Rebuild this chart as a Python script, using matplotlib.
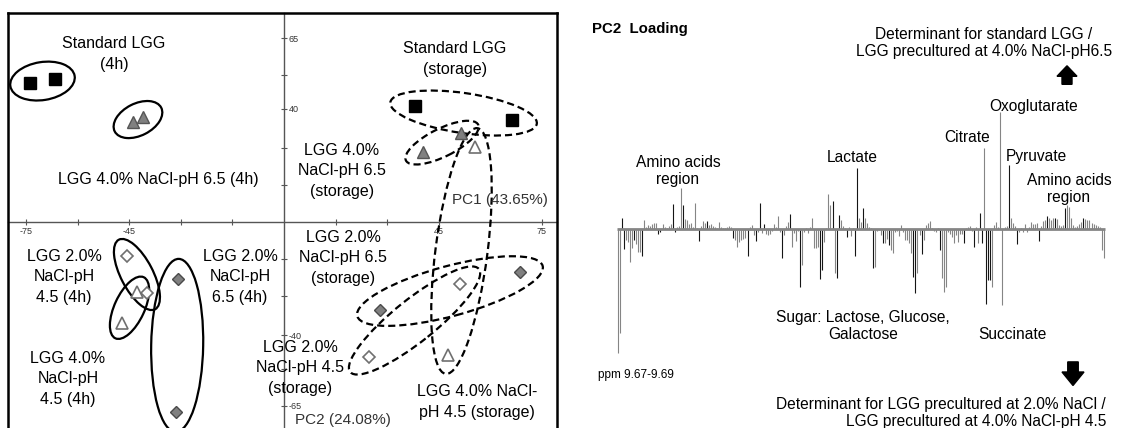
import numpy as np
import matplotlib
matplotlib.use("Agg")
import matplotlib.pyplot as plt
from matplotlib.patches import Ellipse, FancyArrow
import matplotlib.transforms as mtransforms

plt.rcParams['font.family'] = ['Liberation Sans', 'DejaVu Sans']

# ---------------- PCA scores (PC1, PC2) ----------------
std_4h_pc1 = [-73.8, -66.6]
std_4h_pc2 = [49.1, 50.5]
s40_ph65_4h_pc1 = [-43.9, -41.0]
s40_ph65_4h_pc2 = [35.3, 37.1]
s20_ph45_4h_pc1 = [-45.6, -39.9]
s20_ph45_4h_pc2 = [-11.9, -25.2]
s40_ph45_4h_pc1 = [-42.8, -47.0]
s40_ph45_4h_pc2 = [-24.8, -35.8]
s20_ph65_4h_pc1 = [-30.7, -31.4]
s20_ph65_4h_pc2 = [-20.1, -67.1]

std_st_pc1 = [38.1, 66.3]
std_st_pc2 = [41.0, 36.0]
s40_ph65_st_pc1 = [40.4, 51.5]
s40_ph65_st_pc2 = [24.7, 31.4]
s40_ph45_st_pc1 = [55.5, 47.7]
s40_ph45_st_pc2 = [26.5, -47.0]
s20_ph65_st_pc1 = [27.9, 68.6]
s20_ph65_st_pc2 = [-31.1, -17.7]
s20_ph45_st_pc1 = [24.7, 51.2]
s20_ph45_st_pc2 = [-47.7, -21.9]

pc1_ticks = [-75, -60, -45, -30, -15, 15, 30, 45, 60, 75]
pc1_tick_labels = ["-75", "", "-45", "", "", "", "", "45", "", "75"]
pc2_ticks = [-65, -52, -40, -26, -13, 13, 26, 40, 52, 65]
pc2_tick_labels = ["-65", "", "-40", "", "", "", "", "40", "", "65"]

# ---------------- PC2 loadings per spectral bin ----------------
loading = [
    -124, -104, 11, -20, -11, -13, -33, -19, -11, -15,
    -23, -23, -27, 9, 2, 4, 3, 5, 6, 6,
    -5, -3, 5, 2, 1, 3, 5, 25, -3, 2,
    3, 41, 24, 10, 9, 5, 6, 2, 26, 1,
    -12, 3, 8, 6, 8, 4, 5, 3, 2, 1,
    7, 2, 1, 1, 2, 3, 2, -9, -11, -18,
    -13, -11, -10, -9, -27, 2, 4, -6, -12, -3,
    26, -4, 5, -5, -6, -5, -2, 5, 2, 13,
    -3, -29, -6, 3, 7, 15, -18, -4, -12, -2,
    -58, -36, -3, 1, -4, 2, 11, -19, -19, -18,
    -50, -41, -13, 1, 35, 24, 28, -44, -49, 14,
    9, 3, 1, -8, 2, -7, 1, -27, 61, 11,
    7, 21, 11, 6, 2, 1, -39, -38, -2, -1,
    -6, -14, -14, -10, -16, -21, -24, -3, -2, -7,
    4, -3, -11, -11, -14, -24, -48, -64, -44, -6,
    -25, -11, 4, 6, 8, 1, -2, -3, 1, -21,
    -49, -63, -58, -3, -5, -8, -14, -6, -13, -5,
    -5, -14, 1, 2, 3, -2, -18, 2, -14, 16,
    -14, 81, -75, -51, -51, -58, 4, 7, 2, 117,
    -76, 2, 3, 64, 11, 6, 3, -15, -3, 1,
    -3, 5, -3, 2, 7, 5, 5, 6, -12, 3,
    8, 9, 13, 11, 9, 11, 11, 10, 4, 3,
    4, 21, 24, 22, 11, 4, 2, 3, 5, 7,
    11, 10, 9, 9, 6, 5, 4, 3, 2, -21,
    -29,
]
dark_bins = [2, 3, 8, 12, 20, 21, 27, 28, 32, 40, 44, 57, 64, 68, 70, 72, 81,
             85, 90, 100, 101, 106, 108, 109, 113, 117, 118, 121, 126, 131,
             134, 146, 147, 150, 159, 171, 176, 179, 180, 182, 183, 184, 193,
             197, 208, 212, 216, 221, 230]

# ---------------- figure ----------------
W, H = 1121, 428
fig = plt.figure(figsize=(W / 100, H / 100), dpi=100)
# pixel coordinates measured from the top-left corner
pix = mtransforms.Affine2D().scale(1.0 / W, -1.0 / H).translate(0, 1) + fig.transFigure

# ---- score plot ----
xlo, xhi = -80.23, 79.36
ylo, yhi = -74.2, 73.85
ax = fig.add_axes([8 / W, 1 - 432 / H, 549 / W, 419 / H])
ax.set_xlim(xlo, xhi)
ax.set_ylim(ylo, yhi)
ax.set_autoscale_on(False)
ax.set_xticks([])
ax.set_yticks([])
for sp in ax.spines.values():
    sp.set_linewidth(1.8)
    sp.set_color('black')

axis_col = '#555555'
secx = ax.secondary_xaxis((0 - ylo) / (yhi - ylo))
secx.set_alignment('bottom')
secx.set_xticks(pc1_ticks, pc1_tick_labels)
secx.spines['bottom'].set_color(axis_col)
secx.spines['bottom'].set_linewidth(1.0)
secx.tick_params(direction='inout', length=5, width=0.8, color=axis_col,
                 labelsize=6.5, labelcolor='#333333', pad=1)

secy = ax.secondary_yaxis((0 - xlo) / (xhi - xlo))
secy.set_alignment('right')
secy.set_yticks(pc2_ticks, pc2_tick_labels)
secy.spines['right'].set_color(axis_col)
secy.spines['right'].set_linewidth(1.0)
secy.tick_params(direction='inout', length=5, width=0.8, color=axis_col,
                 labelsize=6.5, labelcolor='#333333', pad=1)

sq = dict(marker='s', ms=8, mfc='black', mec='black')
gtri = dict(marker='^', ms=9, mfc='#808080', mec='#555555', mew=1.0)
wtri = dict(marker='^', ms=9, mfc='white', mec='#707070', mew=1.2)
gdia = dict(marker='D', ms=6.6, mfc='#808080', mec='#4a4a4a', mew=1.0)
wdia = dict(marker='D', ms=6.6, mfc='white', mec='#707070', mew=1.2)

solid = '-'
dashed = (0, (3.2, 1.8))
groups = [
    (std_4h_pc1, std_4h_pc2, sq, 40, 38, solid),
    (s40_ph65_4h_pc1, s40_ph65_4h_pc2, gtri, 41, 32, solid),
    (s20_ph45_4h_pc1, s20_ph45_4h_pc2, wdia, 36, 32, solid),
    (s40_ph45_4h_pc1, s40_ph45_4h_pc2, wtri, 33, 30, solid),
    (s20_ph65_4h_pc1, s20_ph65_4h_pc2, gdia, 40, 52, solid),
    (std_st_pc1, std_st_pc2, sq, 50, 40, dashed),
    (s40_ph65_st_pc1, s40_ph65_st_pc2, gtri, 38, 28, dashed),
    (s40_ph45_st_pc1, s40_ph45_st_pc2, wtri, 38, 52, dashed),
    (s20_ph65_st_pc1, s20_ph65_st_pc2, gdia, 47, 50, dashed),
    (s20_ph45_st_pc1, s20_ph45_st_pc2, wdia, 48, 42, dashed),
]

for xs, ys, mstyle, extra, minor, ls in groups:
    pts = ax.transData.transform(np.column_stack([xs, ys]))
    d = pts[1] - pts[0]
    ang = np.degrees(np.arctan2(d[1], d[0]))
    length = np.hypot(d[0], d[1]) + extra
    cx, cy = np.mean(xs), np.mean(ys)
    trans = fig.dpi_scale_trans + mtransforms.ScaledTranslation(cx, cy, ax.transData)
    e = Ellipse((0, 0), length / 100, minor / 100, angle=ang, transform=trans,
                fill=False, edgecolor='black', linewidth=1.6, linestyle=ls,
                zorder=3)
    ax.add_patch(e)
    ax.plot(xs, ys, linestyle='none', zorder=4, **mstyle)

score_labels = [
    ("Standard LGG\n(4h)", 114, 54),
    ("LGG 4.0% NaCl-pH 6.5 (4h)", 158, 180),
    ("Standard LGG\n(storage)", 455, 59),
    ("LGG 4.0%\nNaCl-pH 6.5\n(storage)", 342, 171),
    ("LGG 2.0%\nNaCl-pH 6.5\n(storage)", 343, 258),
    ("LGG 2.0%\nNaCl-pH 4.5\n(storage)", 300, 368),
    ("LGG 4.0% NaCl-\npH 4.5 (storage)", 477, 402),
    ("LGG 2.0%\nNaCl-pH\n4.5 (4h)", 64, 277),
    ("LGG 2.0%\nNaCl-pH\n6.5 (4h)", 240, 277),
    ("LGG 4.0%\nNaCl-pH\n4.5 (4h)", 68, 379),
]
for s, x, y in score_labels:
    fig.text(x, y, s, transform=pix, ha='center', va='center', fontsize=11.5,
             linespacing=1.45, color='black')
fig.text(500, 200, "PC1 (43.65%)", transform=pix, ha='center', va='center',
         fontsize=11, color='#333333')
fig.text(343, 420, "PC2 (24.08%)", transform=pix, ha='center', va='center',
         fontsize=11, color='#333333')

# ---- loading plot ----
rax = fig.add_axes([590 / W, 0, 531 / W, 1])
rax.set_xlim((590 - 618) / 2.0236, (1121 - 618) / 2.0236)
rax.set_ylim(229 - 428, 229)
rax.axis('off')
idx = np.arange(len(loading))
cols = ['#151515' if i in dark_bins else '#858585' for i in idx]
rax.vlines(idx, 0, loading, colors=cols, linewidth=0.8, zorder=2)
rax.hlines(0, -0.6, len(loading) - 0.4, colors='#858585', linewidth=2.0, zorder=3)

fig.text(592, 29, "PC2  Loading", transform=pix, ha='left', va='center',
         fontsize=10.8, fontweight='bold')
fig.text(984, 43, "Determinant for standard LGG /\nLGG precultured at 4.0% NaCl-pH6.5",
         transform=pix, ha='center', va='center', fontsize=11.2, linespacing=1.14)
fig.text(1106, 413, "Determinant for LGG precultured at 2.0% NaCl /\nLGG precultured at 4.0% NaCl-pH 4.5",
         transform=pix, ha='right', va='center', fontsize=11.2, linespacing=1.14,
         multialignment='right')
loading_labels = [
    ("Oxoglutarate", 1034, 106),
    ("Citrate", 967, 138),
    ("Pyruvate", 1036, 157),
    ("Lactate", 852, 157),
    ("Amino acids\nregion", 678, 171),
    ("Amino acids\nregion", 1069, 189),
    ("Sugar: Lactose, Glucose,\nGalactose", 863, 326),
    ("Succinate", 1012, 335),
]
for s, x, y in loading_labels:
    fig.text(x, y, s, transform=pix, ha='center', va='center', fontsize=11.2,
             linespacing=1.14)
fig.text(598, 375, "ppm 9.67-9.69", transform=pix, ha='left', va='center',
         fontsize=8.5)

fig.add_artist(FancyArrow(1067, 84.3, 0, -18.5, width=10, head_width=20,
                          head_length=10.5, length_includes_head=True,
                          transform=pix, color='black'))
fig.add_artist(FancyArrow(1073, 361.9, 0, 23.6, width=10.5, head_width=22,
                          head_length=13.5, length_includes_head=True,
                          transform=pix, color='black'))

fig.savefig("out.png", dpi=100)
